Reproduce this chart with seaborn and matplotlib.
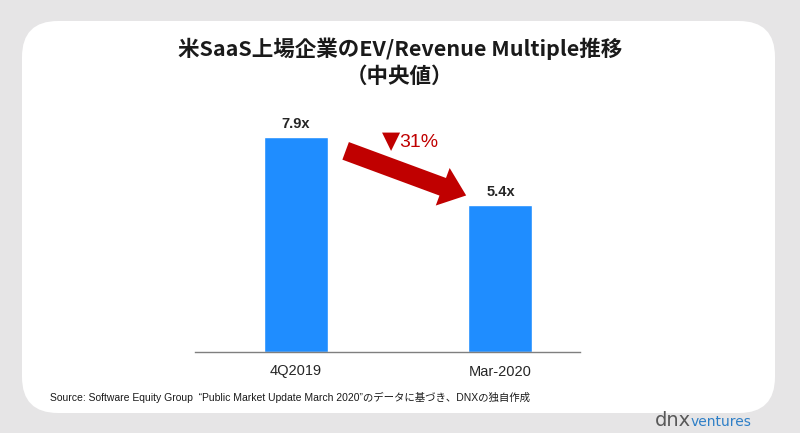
import matplotlib.pyplot as plt
import seaborn as sns
import pandas as pd
from matplotlib.patches import FancyBboxPatch

periods = ["4Q2019", "Mar-2020"]
multiples = [7.9, 5.4]
value_labels = ["7.9x", "5.4x"]
change_marker = "▼"
change_value = "31%"

title = "米SaaS上場企業のEV/Revenue Multiple推移\n（中央値）"
source = "Source: Software Equity Group  “Public Market Update March 2020”のデータに基づき、DNXの独自作成"

df = pd.DataFrame({"period": periods, "multiple": multiples})

sns.set_theme(style="white")
plt.rcParams["font.family"] = ["Liberation Sans", "Noto Sans CJK JP", "DejaVu Sans"]

W, H = 800, 433
fig = plt.figure(figsize=(8, 4.33), dpi=100)
fig.patch.set_facecolor("#e6e5e6")

# white rounded panel, kept behind the axes
panel = FancyBboxPatch((22 / W, 20 / H), 753 / W, 392 / H,
                       boxstyle="round,pad=0,rounding_size=0.045",
                       transform=fig.transFigure, facecolor="white",
                       edgecolor="none", mutation_aspect=W / H, zorder=-5)
fig.patches.append(panel)

# axes placed in pixels: x 195..580, y baseline 352, top 120
ax = fig.add_axes([195 / W, (H - 352) / H, 385 / W, 232 / H])
ax.set_facecolor("none")
ax.set_zorder(2)

sns.barplot(data=df, x="period", y="multiple", color="#1f8dff",
            width=0.313, ax=ax, saturation=1)

ax.set_xlim(-0.494, 1.389)
ax.set_ylim(0, 232 / 27.2)

for i, (v, lab) in enumerate(zip(multiples, value_labels)):
    ax.text(i, v + 0.22, lab, ha="center", va="bottom", fontsize=10.5,
            fontweight="bold", color="#262626")

ax.annotate("", xy=(0.845, 5.72), xytext=(0.23, 7.43),
            arrowprops=dict(arrowstyle="simple,head_length=1.0,head_width=1.6,tail_width=0.75",
                            mutation_scale=18, color="#c00000", lw=0))
ax.text(0.465, 7.74, change_marker, ha="center", va="center", fontsize=17,
        color="#c00000", family=["DejaVu Sans"])
ax.text(0.505, 7.72, change_value, ha="left", va="center", fontsize=14,
        color="#c00000")

sns.despine(ax=ax, left=True)
ax.spines["bottom"].set_color("#7f7f7f")
ax.spines["bottom"].set_linewidth(1.0)
ax.set_yticks([])
ax.set_xlabel("")
ax.set_ylabel("")
ax.tick_params(axis="x", length=0, pad=9, labelsize=10.5, colors="#262626")

fig.text(400 / W, 1 - 62 / H, title, ha="center", va="center", fontsize=15.5,
         fontweight="bold", color="#1a1a1a", linespacing=1.35,
         family=["Noto Sans CJK JP", "DejaVu Sans"])

fig.text(50 / W, 1 - 397 / H, source, ha="left", va="center", fontsize=7.5,
         color="#1a1a1a")

fig.text(655 / W, 1 - 420 / H, "dnx", ha="left", va="center", fontsize=14,
         color="#595959", family=["DejaVu Sans"])
fig.text(691 / W, 1 - 422 / H, "ventures", ha="left", va="center", fontsize=10,
         color="#2e7fc7", family=["DejaVu Sans"])

fig.savefig("out.png", dpi=100, facecolor=fig.get_facecolor())
